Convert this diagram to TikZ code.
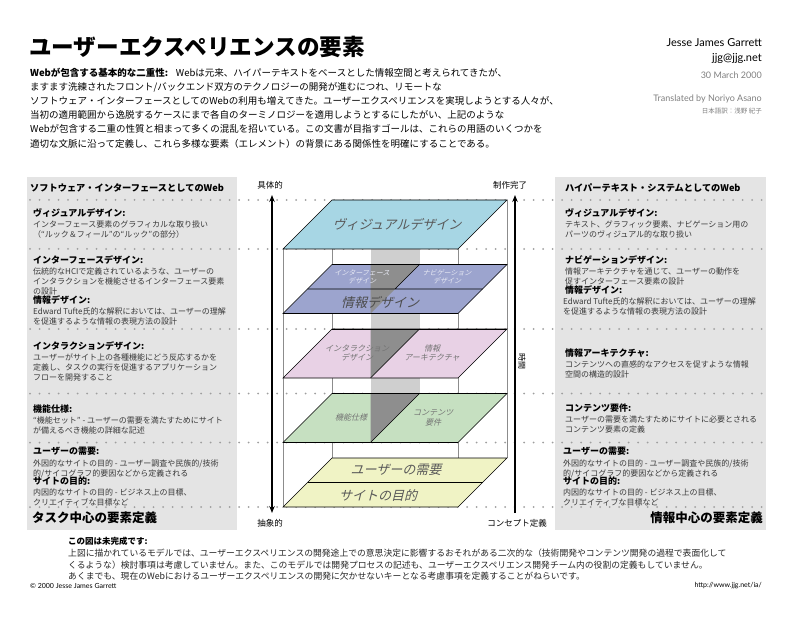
\documentclass[tikz,border=0pt]{standalone}
\usepackage{fontspec}
\setmainfont{Noto Sans CJK JP}
\newfontfamily\slantjp{Noto Sans CJK JP}[FakeSlant=0.25]
\newfontfamily\latinsans{Lato}
\usetikzlibrary{arrows.meta,positioning}

\definecolor{panelgray}{HTML}{E4E4E4}
\definecolor{visblue}{HTML}{A7D6E4}
\definecolor{navblue}{HTML}{9CA4CE}
\definecolor{ixpink}{HTML}{E8D1E5}
\definecolor{specgreen}{HTML}{C6E0C1}
\definecolor{needyellow}{HTML}{F0F3C5}
\definecolor{bandgray}{HTML}{CFCFCF}
\definecolor{bandshadow}{HTML}{8E8E8E}

% one plane of the stack, back edge at y = #1
\newcommand{\uxplane}[2]{%
  \filldraw[fill=#2, draw=black, line width=0.6pt]
    (332,#1) -- ++(175,0) -- ++(-49,49) -- ++(-175,0) -- cycle;}
% dark part of the band on a plane
\newcommand{\uxshadow}[1]{%
  \fill[bandshadow] (370.5,#1) -- (419.5,#1) -- (370.5,#1+49) -- cycle;
  \draw[line width=0.6pt] (332,#1) -- (507,#1);}

\begin{document}
\begin{tikzpicture}[x=1pt,y=-1pt,
  sidehead/.style={font=\bfseries\fontsize{9.2}{11}\selectfont, anchor=west, inner sep=0pt},
  itemhead/.style={font=\bfseries\fontsize{9}{10}\selectfont, anchor=west, inner sep=0pt},
  itembody/.style={font=\fontsize{8}{9.8}\selectfont, align=left, anchor=north west, inner sep=0pt, text=black!78},
  sidefoot/.style={font=\bfseries\fontsize{12.5}{14}\selectfont, inner sep=0pt},
  dotrow/.style={line width=2pt, dash pattern=on 0pt off 9.5pt, line cap=round, black!38},
  boxline/.style={black!45, line width=0.5pt},
  axisline/.style={line width=1.6pt, >={Stealth[length=7pt,width=5.5pt]}},
  axislbl/.style={font=\fontsize{8.5}{10}\selectfont, inner sep=0pt},
  planelbl/.style={font=\slantjp\fontsize{13}{14}\selectfont, text=black!65, inner sep=0pt},
  planesmall/.style={font=\slantjp\fontsize{8}{9.5}\selectfont, text=black!55, align=center, inner sep=0pt},
  credit/.style={font=\latinsans\fontsize{7}{8}\selectfont, inner sep=0pt}]

\useasboundingbox (0,0) rectangle (800,617);
\fill[white] (0,0) rectangle (800,617);

% title and introduction
\node[font=\bfseries\fontsize{22.6}{26}\selectfont, anchor=west, inner sep=0pt] (title) at (29,47) {ユーザーエクスペリエンスの要素};
\node[font=\fontsize{9.5}{14.2}\selectfont, align=left, anchor=north west, inner sep=0pt] (duality) at (30,67.5)
  {{\bfseries Webが包含する基本的な二重性:}\hspace{0.8em}Webは元来、ハイパーテキストをベースとした情報空間と考えられてきたが、\\
   ますます洗練されたフロント/バックエンド双方のテクノロジーの開発が進むにつれ、リモートな\\
   ソフトウェア・インターフェースとしてのWebの利用も増えてきた。ユーザーエクスペリエンスを実現しようとする人々が、\\
   当初の適用範囲から逸脱するケースにまで各自のターミノロジーを適用しようとするにしたがい、上記のような\\
   Webが包含する二重の性質と相まって多くの混乱を招いている。この文書が目指すゴールは、これらの用語のいくつかを\\
   適切な文脈に沿って定義し、これら多様な要素（エレメント）の背景にある関係性を明確にすることである。};

\node[font=\latinsans\fontsize{11}{13}\selectfont, anchor=east, inner sep=0pt] (author) at (762,43) {Jesse James Garrett};
\node[font=\latinsans\fontsize{11}{13}\selectfont, anchor=east, inner sep=0pt] (mail) at (762,58) {jjg@jjg.net};
\node[font=\latinsans\fontsize{9}{11}\selectfont, anchor=east, inner sep=0pt, text=black!50] (date) at (762,75) {30 March 2000};
\node[font=\latinsans\fontsize{9}{11}\selectfont, anchor=east, inner sep=0pt, text=black!50] (translator) at (762,99) {Translated by Noriyo Asano};
\node[font=\fontsize{6.5}{8}\selectfont, anchor=east, inner sep=0pt, text=black!50] (jptrans) at (762,111) {日本語訳：浅野 紀子};

% side panels and rows
\fill[panelgray] (27,177) rectangle (237,530);
\fill[panelgray] (555,177) rectangle (766,530);
\foreach \y in {200,249,329,393.5,442.5,507}
  \draw[dotrow] (30,\y) -- (764,\y);

% the stack
\draw[boxline] (283,249) -- (283,507) (458,249) -- (458,507)
               (332,200) -- (332,458) (507,200) -- (507,458);
\fill[bandgray] (370.5,249) rectangle (419.5,393.5);

\uxplane{200}{visblue}
\uxplane{264.5}{navblue}
\uxshadow{264.5}
\draw[line width=0.6pt] (419.5,264.5) -- ++(-24.5,24.5) (307.5,289) -- ++(175,0);
\uxplane{329}{ixpink}
\uxshadow{329}
\draw[line width=0.6pt] (419.5,329) -- ++(-49,49);
\uxplane{393.5}{specgreen}
\uxshadow{393.5}
\draw[line width=0.6pt] (419.5,393.5) -- ++(-49,49);
\uxplane{458}{needyellow}
\draw[line width=0.6pt] (307.5,482.5) -- ++(175,0);

\node[planelbl] (vislbl) at (397,224) {ヴィジュアルデザイン};
\node[planesmall, font=\slantjp\fontsize{7}{8.5}\selectfont, text=white!75!navblue] (ifdlbl) at (362,277) {インターフェース\\デザイン};
\node[planesmall, font=\slantjp\fontsize{7}{8.5}\selectfont, text=white!75!navblue] (navlbl) at (447,277) {ナビゲーション\\デザイン};
\node[planelbl, text=black!70] (infolbl) at (380,302) {情報デザイン};
\node[planesmall] (ixdlbl) at (357,353) {インタラクション\\デザイン};
\node[planesmall] (ialbl) at (432,353) {情報\\アーキテクチャ};
\node[planesmall] (fslbl) at (351,417) {機能仕様};
\node[planesmall] (crlbl) at (433,418) {コンテンツ\\要件};
\node[planelbl] (needlbl) at (396,470) {ユーザーの需要};
\node[planelbl] (goallbl) at (378,495) {サイトの目的};

% axes
\coordinate (concretetip) at (272,195);
\coordinate (abstracttip) at (272,513);
\coordinate (donetip) at (515,195);
\coordinate (conceptend) at (515,513);
\draw[axisline, <->] (abstracttip) -- (concretetip);
\draw[axisline, ->] (conceptend) -- (donetip);
\node[axislbl] (concrete) at (270,185) {具体的};
\node[axislbl] (abstract) at (270,523) {抽象的};
\node[axislbl] (done) at (510,185) {制作完了};
\node[axislbl] (concept) at (517,523) {コンセプト定義};
\node[axislbl, font=\fontsize{8}{9}\selectfont, rotate=-90] (time) at (522,361) {時間};

% left panel
\node[sidehead] (swhead) at (30,188) {ソフトウェア・インターフェースとしてのWeb};
\node[itemhead] (lvd) at (33,213) {ヴィジュアルデザイン:};
\node[itembody] (lvdtext) at (33,221) {インターフェース要素のグラフィカルな取り扱い\\（“ルック＆フィール”の“ルック”の部分）};
\node[itemhead] (lifd) at (33,259.5) {インターフェースデザイン:};
\node[itembody] (lifdtext) at (33,267.5) {伝統的なHCIで定義されているような、ユーザーの\\インタラクションを機能させるインターフェース要素\\の設計};
\node[itemhead] (lid) at (33,300) {情報デザイン:};
\node[itembody] (lidtext) at (33,308) {Edward Tufte氏的な解釈においては、ユーザーの理解\\を促進するような情報の表現方法の設計};
\node[itemhead] (lixd) at (33,346) {インタラクションデザイン:};
\node[itembody] (lixdtext) at (33,354) {ユーザーがサイト上の各種機能にどう反応するかを\\定義し、タスクの実行を促進するアプリケーション\\フローを開発すること};
\node[itemhead] (lfs) at (33,409) {機能仕様:};
\node[itembody] (lfstext) at (33,417) {“機能セット” - ユーザーの需要を満たすためにサイト\\が備えるべき機能の詳細な記述};
\node[itemhead] (lun) at (33,451.5) {ユーザーの需要:};
\node[itembody] (luntext) at (33,459.5) {外因的なサイトの目的 - ユーザー調査や民族的/技術\\的/サイコグラフ的要因などから定義される};
\node[itemhead] (lso) at (33,481) {サイトの目的:};
\node[itembody] (lsotext) at (33,489) {内因的なサイトの目的 - ビジネス上の目標、\\クリエイティブな目標など};
\node[sidefoot, anchor=west] (taskfoot) at (32,518) {タスク中心の要素定義};

% right panel
\node[sidehead] (hthead) at (565,188) {ハイパーテキスト・システムとしてのWeb};
\node[itemhead] (rvd) at (565,213) {ヴィジュアルデザイン:};
\node[itembody] (rvdtext) at (565,221) {テキスト、グラフィック要素、ナビゲーション用の\\パーツのヴィジュアル的な取り扱い};
\node[itemhead] (rnd) at (565,259.5) {ナビゲーションデザイン:};
\node[itembody] (rndtext) at (565,267.5) {情報アーキテクチャを通じて、ユーザーの動作を\\促すインターフェース要素の設計};
\node[itemhead] (rid) at (565,290) {情報デザイン:};
\node[itembody] (ridtext) at (563,298) {Edward Tufte氏的な解釈においては、ユーザーの理解\\を促進するような情報の表現方法の設計};
\node[itemhead] (ria) at (565,353) {情報アーキテクチャ:};
\node[itembody] (riatext) at (565,361) {コンテンツへの直感的なアクセスを促すような情報\\空間の構造的設計};
\node[itemhead] (rcr) at (565,408) {コンテンツ要件:};
\node[itembody] (rcrtext) at (565,416) {ユーザーの需要を満たすためにサイトに必要とされる\\コンテンツ要素の定義};
\node[itemhead] (run) at (563,451.5) {ユーザーの需要:};
\node[itembody] (runtext) at (563,459.5) {外因的なサイトの目的 - ユーザー調査や民族的/技術\\的/サイコグラフ的要因などから定義される};
\node[itemhead] (rso) at (563,481) {サイトの目的:};
\node[itembody] (rsotext) at (563,489) {内因的なサイトの目的 - ビジネス上の目標、\\クリエイティブな目標など};
\node[sidefoot, anchor=east] (infofoot) at (763,518) {情報中心の要素定義};

% note at the bottom
\node[itemhead, font=\bfseries\fontsize{8.5}{10}\selectfont] (unfinished) at (68,541) {この図は未完成です:};
\node[itembody, font=\fontsize{8.8}{11.5}\selectfont, text=black!85] (caveat) at (68,549) {上図に描かれているモデルでは、ユーザーエクスペリエンスの開発途上での意思決定に影響するおそれがある二次的な（技術開発やコンテンツ開発の過程で表面化して\\くるような）検討事項は考慮していません。また、このモデルでは開発プロセスの記述も、ユーザーエクスペリエンス開発チーム内の役割の定義もしていません。\\あくまでも、現在のWebにおけるユーザーエクスペリエンスの開発に欠かせないキーとなる考慮事項を定義することがねらいです。};
\node[credit, anchor=west] (copyright) at (30,586) {© 2000 Jesse James Garrett};
\node[credit, anchor=east] (url) at (762,586) {http://www.jjg.net/ia/};
\end{tikzpicture}
\end{document}
